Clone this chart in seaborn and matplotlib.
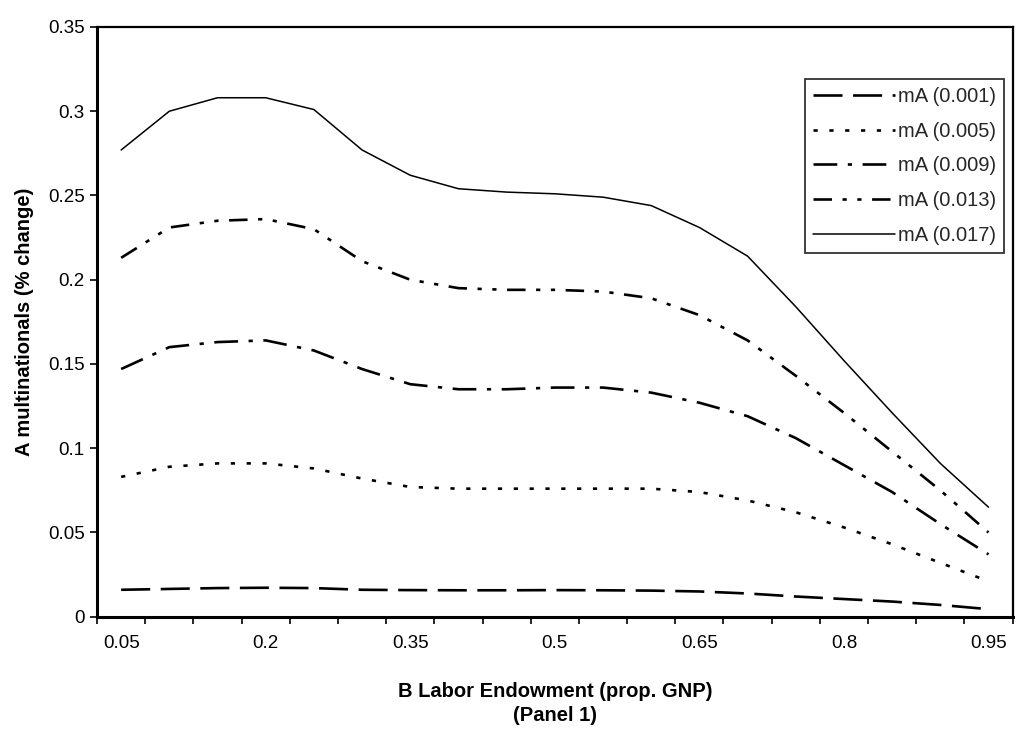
import pandas as pd
import seaborn as sns
import matplotlib.pyplot as plt
from matplotlib.ticker import FormatStrFormatter

# B labour endowment categories (prop. GNP)
endowment = [0.05, 0.10, 0.15, 0.20, 0.25, 0.30, 0.35, 0.40, 0.45, 0.50,
             0.55, 0.60, 0.65, 0.70, 0.75, 0.80, 0.85, 0.90, 0.95]
tick_labels = ['0.05', '0.2', '0.35', '0.5', '0.65', '0.8', '0.95']

series_names = ['mA (0.001)', 'mA (0.005)', 'mA (0.009)', 'mA (0.013)', 'mA (0.017)']

mA_001 = [0.016, 0.0165, 0.017, 0.0172, 0.017, 0.016, 0.0158, 0.0157, 0.0157, 0.0158,
          0.0157, 0.0155, 0.015, 0.0138, 0.012, 0.0105, 0.009, 0.007, 0.0045]
mA_005 = [0.083, 0.089, 0.091, 0.091, 0.088, 0.082, 0.077, 0.076, 0.076, 0.076,
          0.076, 0.076, 0.074, 0.069, 0.062, 0.053, 0.043, 0.032, 0.021]
mA_009 = [0.147, 0.160, 0.163, 0.164, 0.158, 0.147, 0.138, 0.135, 0.135, 0.136,
          0.136, 0.133, 0.127, 0.119, 0.106, 0.090, 0.074, 0.055, 0.037]
mA_013 = [0.213, 0.231, 0.235, 0.236, 0.230, 0.211, 0.200, 0.195, 0.194, 0.194,
          0.193, 0.189, 0.179, 0.164, 0.143, 0.121, 0.098, 0.075, 0.050]
mA_017 = [0.277, 0.300, 0.308, 0.308, 0.301, 0.277, 0.262, 0.254, 0.252, 0.251,
          0.249, 0.244, 0.231, 0.214, 0.184, 0.152, 0.121, 0.091, 0.065]

line_styles = [(0, (11, 4)),
               (0, (1.6, 4.4)),
               (0, (9, 4, 1.6, 4)),
               (0, (7, 4, 1.6, 4, 1.6, 4)),
               '-']
line_widths = [1.9, 1.9, 1.9, 1.9, 1.1]

sns.set_theme(style='white')
plt.rcParams['font.family'] = ['Liberation Sans', 'DejaVu Sans']

fig = plt.figure(figsize=(10.27, 7.29), dpi=100)
ax = fig.add_axes([0.0945, 0.154, 0.8915, 0.809])

pos = list(range(len(endowment)))
for name, vals, ls, lw in zip(series_names, [mA_001, mA_005, mA_009, mA_013, mA_017],
                              line_styles, line_widths):
    df = pd.DataFrame({'pos': pos, 'value': vals})
    sns.lineplot(x='pos', y='value', data=df, ax=ax, color='black',
                 linestyle=ls, linewidth=lw, label=name)

ax.set_xlim(-0.5, len(endowment) - 0.5)
ax.set_ylim(0, 0.35)
ax.set_yticks([0, 0.05, 0.1, 0.15, 0.2, 0.25, 0.3, 0.35])
ax.yaxis.set_major_formatter(FormatStrFormatter('%g'))

# ticks between categories, labels on every third category
ax.set_xticks([p - 0.5 for p in range(len(endowment) + 1)])
ax.set_xticklabels([])
ax.set_xticks(pos[::3], minor=True)
ax.set_xticklabels(tick_labels, minor=True)
ax.tick_params(axis='x', which='major', direction='out', length=5, width=1.2, color='black', bottom=True)
ax.tick_params(axis='x', which='minor', length=0, pad=13, labelsize=13.5, labelcolor='black', bottom=True)
ax.tick_params(axis='y', direction='out', length=5, width=1.2, color='black', left=True,
               pad=4, labelsize=13.5, labelcolor='black')

for side in ['left', 'bottom', 'top', 'right']:
    ax.spines[side].set_color('black')
    ax.spines[side].set_linewidth(1.6)
ax.spines['left'].set_linewidth(2.2)
ax.spines['bottom'].set_linewidth(2.2)

ax.set_xlabel('B Labor Endowment (prop. GNP)\n(Panel 1)', fontsize=14.5, fontweight='bold',
              labelpad=22, linespacing=1.3, color='black')
ax.set_ylabel('A multinationals (% change)', fontsize=14.5, fontweight='bold',
              labelpad=10, color='black')

leg = ax.legend(loc='upper right', bbox_to_anchor=(0.991, 0.912), borderaxespad=0,
                fontsize=14.5, handlelength=4.1, handletextpad=0.15, labelspacing=0.78,
                borderpad=0.4, frameon=True, fancybox=False)
leg.get_frame().set_edgecolor('black')
leg.get_frame().set_linewidth(1.3)

plt.savefig('out.png', dpi=100)
